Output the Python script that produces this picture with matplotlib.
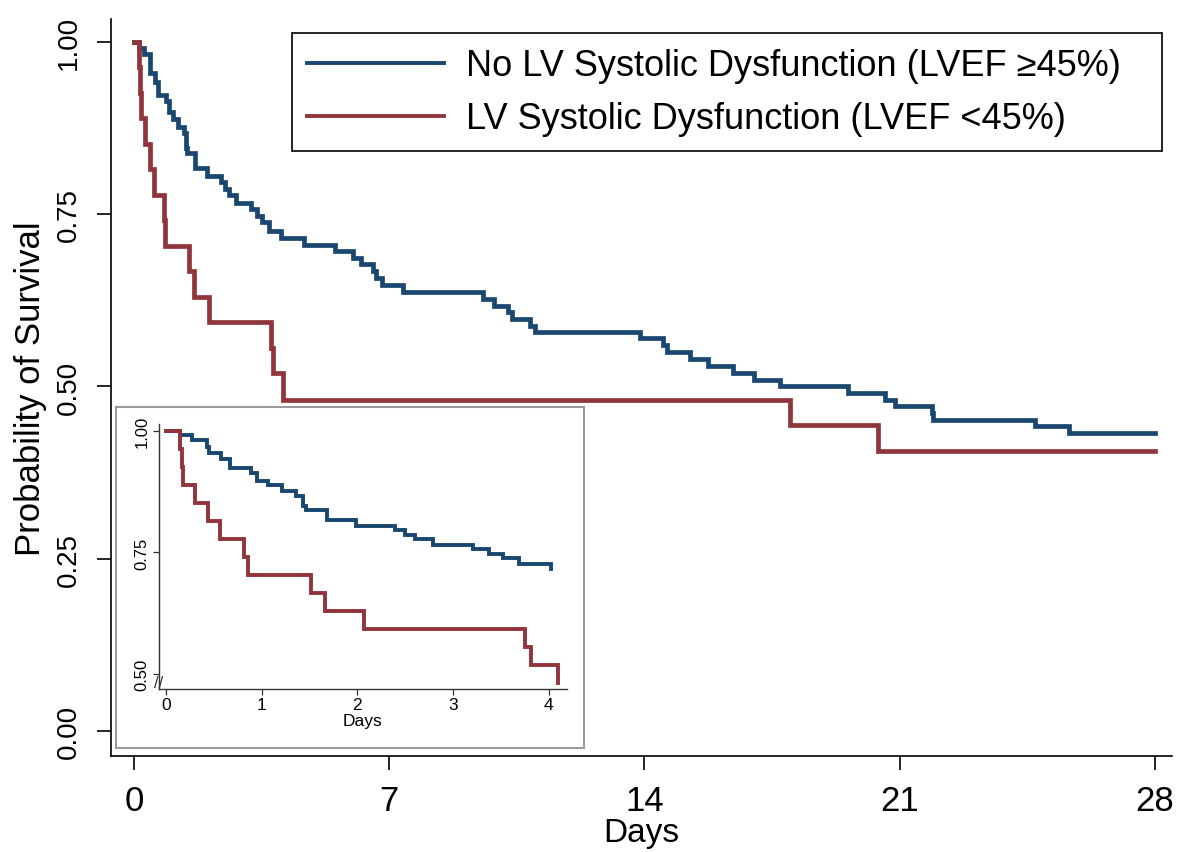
import matplotlib
matplotlib.use("Agg")
import matplotlib.pyplot as plt
from matplotlib.lines import Line2D
from matplotlib.patches import Rectangle
import matplotlib.transforms as mtransforms

# ---------------- data ----------------
days_end = 28
inset_end = 4.1

blue_label = "No LV Systolic Dysfunction (LVEF \u226545%)"
red_label = "LV Systolic Dysfunction (LVEF <45%)"

blue_times = [0.15, 0.27, 0.43, 0.45, 0.58, 0.67, 0.89, 0.95, 1.07, 1.21, 1.36,
              1.43, 1.46, 1.68, 1.99, 2.39, 2.50, 2.60, 2.79, 3.21, 3.37, 3.52,
              3.69, 4.02, 4.66, 5.51, 6.02, 6.24, 6.56, 6.65, 6.79, 7.39, 9.58,
              9.88, 10.27, 10.36, 10.86, 11.00, 13.88, 14.52, 14.61, 15.25,
              15.75, 16.44, 17.00, 17.72, 19.57, 20.60, 20.87, 21.88, 21.92,
              24.71, 25.65]
blue_surv = [0.991, 0.982, 0.968, 0.955, 0.942, 0.923, 0.914, 0.898, 0.888,
             0.877, 0.867, 0.846, 0.838, 0.817, 0.805, 0.797, 0.786, 0.778,
             0.766, 0.757, 0.747, 0.738, 0.726, 0.716, 0.705, 0.697, 0.687,
             0.678, 0.668, 0.658, 0.647, 0.637, 0.627, 0.617, 0.608, 0.598,
             0.588, 0.579, 0.570, 0.560, 0.550, 0.540, 0.529, 0.519, 0.509,
             0.500, 0.491, 0.481, 0.471, 0.461, 0.452, 0.442, 0.432]

red_times = [0.15, 0.17, 0.18, 0.30, 0.44, 0.56, 0.81, 0.86, 1.52, 1.66, 2.07,
             3.75, 3.81, 4.10, 18.00, 20.40]
red_surv = [0.963, 0.926, 0.889, 0.852, 0.815, 0.778, 0.741, 0.704, 0.667,
            0.630, 0.593, 0.556, 0.519, 0.481, 0.444, 0.407]

main_xticks = [0, 7, 14, 21, 28]
main_yticks = [0.00, 0.25, 0.50, 0.75, 1.00]
inset_xticks = [0, 1, 2, 3, 4]
inset_yticks = [0.50, 0.75, 1.00]

BLUE = "#1a476f"
RED = "#90353b"


def km_xy(times, surv, end):
    x = [0.0] + list(times) + [end]
    y = [1.0] + list(surv) + [surv[-1]]
    return x, y


def km_xy_trunc(times, surv, cut):
    tt = [t for t in times if t <= cut]
    ss = surv[:len(tt)]
    x = [0.0] + tt
    y = [1.0] + ss
    return x, y


plt.rcParams["font.family"] = ["Liberation Sans", "DejaVu Sans"]

fig = plt.figure(figsize=(11.87, 8.53), dpi=100)
ax = fig.add_axes([111 / 1187, 1 - 757 / 853, (1172 - 111) / 1187, (757 - 20) / 853])

bx, by = km_xy(blue_times, blue_surv, days_end)
rx, ry = km_xy(red_times, red_surv, days_end)
ax.step(bx, by, where="post", color=BLUE, lw=3.4, solid_joinstyle="miter")
ax.step(rx, ry, where="post", color=RED, lw=3.4, solid_joinstyle="miter")

ax.set_xlim(-0.63, 28.47)
ax.set_ylim(-0.036, 1.033)
ax.spines["top"].set_visible(False)
ax.spines["right"].set_visible(False)
for s in ("left", "bottom"):
    ax.spines[s].set_linewidth(1.2)
ax.set_xticks(main_xticks)
ax.set_xticklabels([str(v) for v in main_xticks], fontsize=25)
ax.set_yticks(main_yticks)
ax.set_yticklabels([f"{v:.2f}" for v in main_yticks], fontsize=20)
ax.tick_params(axis="both", direction="out", length=10, width=1.2)
ax.tick_params(axis="x", pad=10)
ax.tick_params(axis="y", pad=11)
for lab in ax.get_yticklabels():
    lab.set_rotation(90)
    lab.set_va("center")
ax.set_xlabel("Days", fontsize=24, labelpad=0)
ax.set_ylabel("Probability of Survival", fontsize=25, labelpad=6)

handles = [Line2D([], [], color=BLUE, lw=2.8), Line2D([], [], color=RED, lw=2.8)]
leg = fig.legend(handles, [blue_label, red_label], loc="upper left",
                 bbox_to_anchor=(292 / 1187, 1 - 150 / 853, 870 / 1187, 116 / 853),
                 mode="expand", fontsize=26,
                 handlelength=3.8, handletextpad=0.6, borderpad=0.42,
                 labelspacing=0.5, borderaxespad=0, fancybox=False,
                 framealpha=1, edgecolor="black")
leg.get_frame().set_linewidth(1.2)

# inset frame
rect = Rectangle((116 / 1187, 1 - 749 / 853), (584 - 116) / 1187, (749 - 408) / 853,
                 transform=fig.transFigure, facecolor="white", edgecolor="#9a9a9a",
                 lw=1.5, zorder=1)
fig.add_artist(rect)

ins = fig.add_axes([159 / 1187, 1 - 690 / 853, (567 - 159) / 1187, (690 - 425) / 853],
                   zorder=2)
ins.set_facecolor("none")
ibx, iby = km_xy_trunc(blue_times, blue_surv, inset_end)
irx, iry = km_xy_trunc(red_times, red_surv, inset_end)
ins.step(ibx, iby, where="post", color=BLUE, lw=2.8, solid_joinstyle="miter")
ins.step(irx, iry, where="post", color=RED, lw=2.8, solid_joinstyle="miter")
ins.set_xlim(-0.073, 4.19)
ins.set_ylim(0.469, 1.0144)
ins.spines["top"].set_visible(False)
ins.spines["right"].set_visible(False)
for s in ("left", "bottom"):
    ins.spines[s].set_linewidth(1.0)
    ins.spines[s].set_color("#333333")
ins.set_xticks(inset_xticks)
ins.set_xticklabels([str(v) for v in inset_xticks], fontsize=12.5)
ins.set_yticks(inset_yticks)
ins.set_yticklabels([f"{v:.2f}" for v in inset_yticks], fontsize=12)
ins.tick_params(axis="both", direction="out", length=4, width=0.9, colors="#333333",
                labelcolor="black")
ins.tick_params(axis="x", pad=2)
ins.tick_params(axis="y", pad=3)
for lab in ins.get_yticklabels():
    lab.set_rotation(90)
    lab.set_va("center")
ins.set_xlabel("Days", fontsize=12.5, labelpad=0.5)
brk = mtransforms.blended_transform_factory(ins.transAxes, ins.transData)
ins.text(0.0, 0.482, "//", transform=brk, ha="center", va="center", fontsize=12,
         color="#333333", zorder=5)

fig.savefig("out.png", dpi=100)
